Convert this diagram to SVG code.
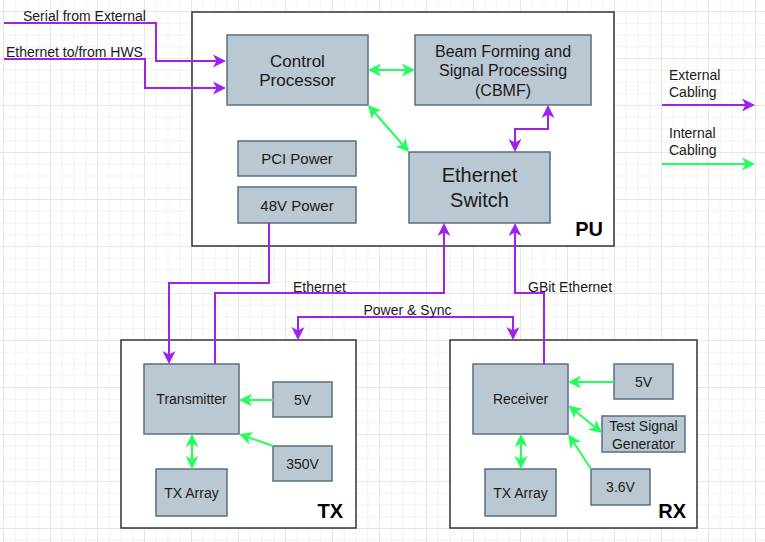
<svg xmlns="http://www.w3.org/2000/svg" width="765" height="542" viewBox="0 0 765 542">
<defs>
<pattern id="grid" patternUnits="userSpaceOnUse" x="3" y="11" width="47" height="47">
<rect x="11.75" y="0" width="1" height="47" fill="#f4f4f4"/>
<rect x="23.5" y="0" width="1" height="47" fill="#f4f4f4"/>
<rect x="35.25" y="0" width="1" height="47" fill="#f4f4f4"/>
<rect x="0" y="11.75" width="47" height="1" fill="#f4f4f4"/>
<rect x="0" y="23.5" width="47" height="1" fill="#f4f4f4"/>
<rect x="0" y="35.25" width="47" height="1" fill="#f4f4f4"/>
<rect x="0" y="0" width="1" height="47" fill="#e6e6e6"/>
<rect x="0" y="0" width="47" height="1" fill="#e6e6e6"/>
</pattern>
<marker id="ap" markerUnits="userSpaceOnUse" markerWidth="14" markerHeight="14" viewBox="0 0 14 14" refX="11" refY="7" orient="auto-start-reverse">
<path d="M0,0.5 L13,7 L0,13.5 L3.5,7 Z" fill="#a020f0"/>
</marker>
<marker id="ag" markerUnits="userSpaceOnUse" markerWidth="14" markerHeight="14" viewBox="0 0 14 14" refX="11" refY="7" orient="auto-start-reverse">
<path d="M0,0.5 L13,7 L0,13.5 L3.5,7 Z" fill="#22ff5a"/>
</marker>
</defs>
<style>
text{font-family:"Liberation Sans",Arial,sans-serif;fill:#1a1a1a}
.c{text-anchor:middle}
.cont{fill:#ffffff;stroke:#333333;stroke-width:1.5}
.box{fill:#bac8d3;stroke:#5a6e80;stroke-width:1.5}
.p{fill:none;stroke:#a020f0;stroke-width:2}
.g{fill:none;stroke:#22ff5a;stroke-width:2}
.pe{marker-end:url(#ap)}
.pb{marker-start:url(#ap);marker-end:url(#ap)}
.ge{marker-end:url(#ag)}
.gb{marker-start:url(#ag);marker-end:url(#ag)}
.lbl{font-size:14px}
.big{font-size:20px;font-weight:bold;fill:#000}
</style>
<rect width="765" height="542" fill="#ffffff"/>
<rect width="765" height="542" fill="url(#grid)"/>

<g id="PU">
<rect class="cont" x="192" y="12" width="422" height="234"/>
<text class="big" x="603" y="236" text-anchor="end">PU</text>
</g>
<g id="TX">
<rect class="cont" x="121" y="340" width="235" height="188"/>
<text class="big" x="343" y="518" text-anchor="end">TX</text>
</g>
<g id="RX">
<rect class="cont" x="450" y="340" width="247" height="188"/>
<text class="big" x="686" y="518" text-anchor="end">RX</text>
</g>

<g id="control-processor">
<rect class="box" x="227" y="35" width="141" height="70"/>
<text class="c" x="297.5" y="67" font-size="17">Control</text>
<text class="c" x="297.5" y="86" font-size="17">Processor</text>
</g>
<g id="cbmf">
<rect class="box" x="415" y="35" width="176" height="70"/>
<text class="c" x="503" y="56.5" font-size="16">Beam Forming and</text>
<text class="c" x="503" y="76" font-size="16">Signal Processing</text>
<text class="c" x="503" y="95.5" font-size="16">(CBMF)</text>
</g>
<g id="ethernet-switch">
<rect class="box" x="409" y="152" width="141" height="71"/>
<text class="c" x="479.5" y="182" font-size="20">Ethernet</text>
<text class="c" x="479.5" y="207" font-size="20">Switch</text>
</g>
<g id="pci-power">
<rect class="box" x="238" y="141" width="118" height="35"/>
<text class="c" x="297" y="164" font-size="15">PCI Power</text>
</g>
<g id="48v-power">
<rect class="box" x="238" y="187" width="118" height="36"/>
<text class="c" x="297" y="210.5" font-size="15">48V Power</text>
</g>

<g id="transmitter">
<rect class="box" x="144" y="364" width="95" height="70"/>
<text class="c lbl" x="191.5" y="404">Transmitter</text>
</g>
<g id="tx-5v">
<rect class="box" x="273" y="382" width="59" height="35"/>
<text class="c lbl" x="302.5" y="404.5">5V</text>
</g>
<g id="tx-350v">
<rect class="box" x="273" y="446" width="59" height="35"/>
<text class="c lbl" x="302.5" y="468.5">350V</text>
</g>
<g id="tx-array-tx">
<rect class="box" x="156" y="469" width="71" height="47"/>
<text class="c lbl" x="191.5" y="498">TX Array</text>
</g>

<g id="receiver">
<rect class="box" x="473" y="364" width="95" height="70"/>
<text class="c lbl" x="520.5" y="404">Receiver</text>
</g>
<g id="rx-5v">
<rect class="box" x="614" y="364" width="59" height="35"/>
<text class="c lbl" x="643.5" y="386.5">5V</text>
</g>
<g id="test-signal-generator">
<rect class="box" x="602" y="416" width="83" height="36"/>
<text class="c lbl" x="643.5" y="431">Test Signal</text>
<text class="c lbl" x="643.5" y="448.5">Generator</text>
</g>
<g id="rx-3v6">
<rect class="box" x="591" y="469" width="59" height="36"/>
<text class="c lbl" x="620.5" y="492">3.6V</text>
</g>
<g id="tx-array-rx">
<rect class="box" x="485" y="469" width="71" height="47"/>
<text class="c lbl" x="520.5" y="498">TX Array</text>
</g>

<g id="connectors">
<path class="p pe" d="M4,23 H156 V61 H224"/>
<path class="p pe" d="M4,59 H145 V88 H224"/>
<path class="g gb" d="M370,70 H413"/>
<path class="g gb" d="M369.3,106.5 L407.7,150.5"/>
<path class="p pb" d="M548,107 V129 H515 V150"/>
<path class="p pe" d="M269,223 V283 H169 V362"/>
<path class="p pe" d="M215,364 V293 H444 V225"/>
<path class="p pb" d="M298,338 V317 H513 V338"/>
<path class="p pe" d="M544,364 V293 H515 V225"/>
<path class="g ge" d="M273,400 H241"/>
<path class="g ge" d="M273,446 L240.9,434.7"/>
<path class="g gb" d="M192,436 V467"/>
<path class="g ge" d="M614,382 H570"/>
<path class="g gb" d="M570,406.8 L600.5,431.7"/>
<path class="g ge" d="M591,469 L569.6,436.2"/>
<path class="g gb" d="M521,436 V467"/>
<path class="p pe" d="M662,105 H753"/>
<path class="g ge" d="M662,164 H753"/>
</g>

<g id="labels">
<text class="lbl" x="23" y="21">Serial from External</text>
<text class="lbl" x="6" y="57">Ethernet to/from HWS</text>
<text class="lbl c" x="319.5" y="291.5">Ethernet</text>
<text class="lbl" x="363.5" y="315">Power &amp; Sync</text>
<text class="lbl" x="528" y="291.5">GBit Ethernet</text>
<text class="lbl" x="669" y="79.5">External</text>
<text class="lbl" x="669" y="96.5">Cabling</text>
<text class="lbl" x="669" y="137.5">Internal</text>
<text class="lbl" x="669" y="154.5">Cabling</text>
</g>
</svg>
